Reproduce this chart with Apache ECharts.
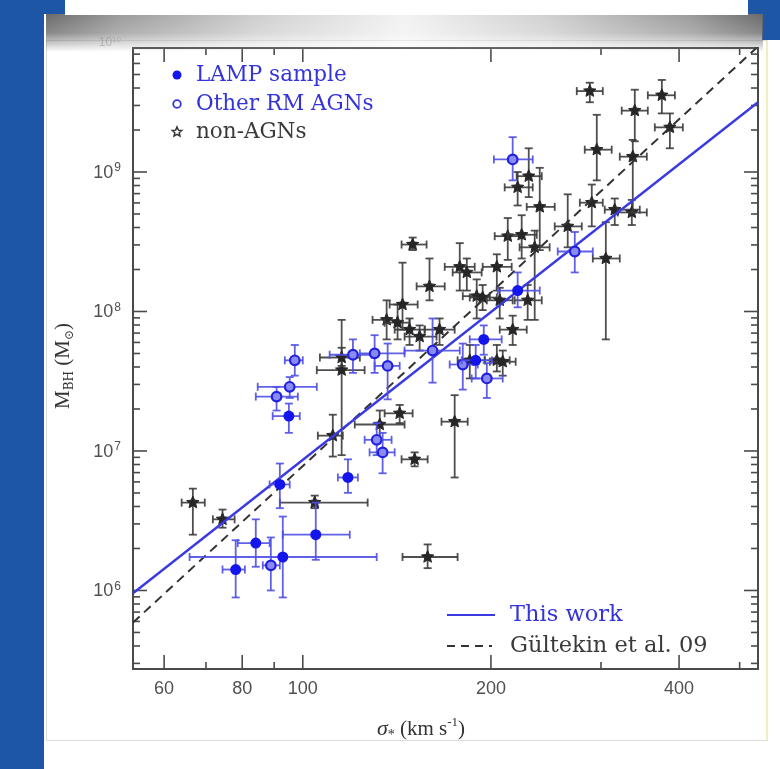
<!DOCTYPE html>
<html>
<head>
<meta charset="utf-8">
<script src="https://cdn.jsdelivr.net/npm/echarts@6/dist/echarts.min.js"></script>
<style>
  html, body { margin: 0; padding: 0; }
  body { width: 780px; height: 769px; background: #1c56a4; position: relative; overflow: hidden; }
  #paper { position: absolute; left: 44px; top: 14px; width: 736px; height: 755px; background: #ffffff; }
  #cornerBlue { position: absolute; left: 762px; top: 0; width: 18px; height: 40px; background: #1c56a4; }
  #frame { position: absolute; left: 46px; top: 40px; width: 719px; height: 699px; border: 1px solid #dcdcdc; border-right: 2px solid #eeeec0; }
  #chart { position: absolute; left: 0; top: 0; width: 780px; height: 769px; z-index: 1; }
  #shadow { position: absolute; left: 46px; top: 14px; width: 717px; height: 38px; z-index: 2;
    background: linear-gradient(to right, #6a6a6a 0%, #9a9a9a 10%, #d0d0d0 30%, #f2f2f2 50%, #d0d0d0 70%, #9a9a9a 90%, #6a6a6a 100%);
    -webkit-mask-image: linear-gradient(to bottom, rgba(0,0,0,1) 0%, rgba(0,0,0,0.8) 50%, rgba(0,0,0,0) 100%);
    mask-image: linear-gradient(to bottom, rgba(0,0,0,1) 0%, rgba(0,0,0,0.8) 50%, rgba(0,0,0,0) 100%); }
  #titlebox { position: absolute; left: 65px; top: 0; width: 683px; height: 15px; background: #ffffff; z-index: 3; }
</style>
</head>
<body>
<div id="paper"></div>
<div id="cornerBlue"></div>
<div id="frame"></div>
<div id="chart"></div>
<div id="shadow"></div>
<div id="titlebox"></div>
<script>
// ---------------- DATA ----------------
// axis ranges
const sigmaRange = [53.5, 535];        // km/s
const logMRange = [5.437, 9.889];      // log10(M_BH / M_sun)

// tick values
const xMajorTicks = [60, 80, 100, 200, 400];
const xMinorTicks = [70, 90, 300, 500];
const yMajorExponents = [6, 7, 8, 9];
const yMinorMultipliers = [2, 3, 4, 5, 6, 7, 8, 9];

// rows: [sigma, sigmaLow, sigmaHigh, logM, logMLow, logMHigh]
const lampSample = [
  [220.7, 205.1, 239.4, 8.15, 8.03, 8.28],
  [194.8, 185.0, 208.1, 7.80, 7.69, 7.90],
  [189.1, 179.6, 200.7, 7.65, 7.52, 7.76],
  [95.0, 89.5, 98.9, 7.25, 7.13, 7.34],
  [118.1, 113.8, 122.5, 6.81, 6.70, 6.94],
  [91.9, 88.5, 95.3, 6.76, 6.59, 6.91],
  [104.9, 92.9, 118.9, 6.40, 6.22, 6.63],
  [84.1, 78.7, 88.5, 6.34, 6.17, 6.51],
  [92.9, 65.9, 131.3, 6.24, 5.95, 6.53],
  [78.1, 74.4, 80.8, 6.15, 5.95, 6.36]
];

const otherRM = [
  [216.7, 202.2, 233.3, 9.09, 8.94, 9.25],
  [272.4, 255.8, 291.1, 8.43, 8.28, 8.57],
  [161.3, 145.5, 178.3, 7.72, 7.49, 7.95],
  [180.3, 171.8, 190.5, 7.62, 7.44, 7.77],
  [197.0, 186.3, 208.9, 7.52, 7.38, 7.63],
  [97.1, 93.6, 100.0, 7.65, 7.54, 7.76],
  [95.3, 84.7, 105.3, 7.46, 7.38, 7.53],
  [90.8, 84.1, 98.2, 7.39, 7.29, 7.46],
  [120.3, 110.4, 128.9, 7.69, 7.56, 7.80],
  [130.3, 123.4, 145.5, 7.70, 7.56, 7.83],
  [136.7, 130.3, 142.9, 7.61, 7.37, 7.77],
  [131.3, 125.6, 138.7, 7.08, 6.97, 7.20],
  [134.2, 127.9, 140.3, 6.99, 6.84, 7.13],
  [88.9, 86.3, 91.9, 6.18, 6.00, 6.38]
];

const nonAGN = [
  [66.7, 64.0, 69.7, 6.63, 6.40, 6.73],
  [74.4, 71.8, 77.8, 6.51, 6.45, 6.58],
  [104.5, 91.9, 127.0, 6.63, 6.59, 6.68],
  [158.4, 144.4, 176.9, 6.24, 6.16, 6.33],
  [151.0, 143.9, 158.4, 6.94, 6.89, 6.99],
  [142.9, 135.2, 149.9, 7.27, 7.20, 7.33],
  [132.8, 121.1, 145.5, 7.19, 7.08, 7.29],
  [111.7, 105.7, 115.9, 7.11, 6.96, 7.26],
  [175.0, 166.7, 183.6, 7.21, 6.81, 7.40],
  [115.4, 105.3, 125.6, 7.58, 6.97, 7.94],
  [115.4, 106.5, 123.4, 7.67, 7.61, 7.74],
  [136.2, 129.3, 141.8, 7.94, 7.80, 8.08],
  [141.8, 135.2, 148.2, 7.92, 7.80, 8.05],
  [144.4, 137.7, 152.7, 8.05, 7.87, 8.35],
  [149.9, 143.9, 157.8, 8.48, 8.44, 8.53],
  [159.5, 152.1, 168.7, 8.18, 8.08, 8.38],
  [148.2, 140.3, 156.7, 7.87, 7.76, 7.95],
  [153.8, 145.5, 163.7, 7.82, 7.72, 7.90],
  [165.5, 156.7, 175.0, 7.87, 7.76, 7.95],
  [178.3, 168.7, 188.4, 8.32, 8.15, 8.49],
  [183.0, 173.7, 193.3, 8.28, 8.15, 8.38],
  [189.8, 180.3, 199.2, 8.11, 7.95, 8.23],
  [185.0, 176.9, 195.5, 7.65, 7.52, 7.76],
  [204.4, 194.0, 215.9, 8.32, 8.15, 8.41],
  [194.0, 185.0, 204.4, 8.10, 8.01, 8.19],
  [206.6, 197.0, 216.7, 8.08, 7.95, 8.17],
  [216.7, 206.6, 228.2, 7.87, 7.76, 7.97],
  [204.4, 195.5, 214.3, 7.65, 7.57, 7.76],
  [208.9, 199.2, 219.1, 7.64, 7.54, 7.72],
  [212.8, 202.8, 224.0, 8.54, 8.37, 8.67],
  [224.0, 212.8, 236.8, 8.55, 8.38, 8.69],
  [235.0, 222.3, 248.3, 8.46, 7.94, 8.58],
  [239.4, 228.2, 253.0, 8.75, 8.44, 9.03],
  [220.7, 210.4, 233.3, 8.89, 8.76, 9.00],
  [229.9, 219.9, 241.2, 8.97, 8.82, 9.17],
  [229.0, 218.3, 241.2, 8.08, 7.94, 8.19],
  [265.4, 253.0, 279.5, 8.61, 8.46, 8.84],
  [290.0, 277.5, 302.0, 8.78, 8.61, 8.91],
  [315.6, 304.2, 346.1, 8.73, 8.62, 8.81],
  [336.1, 319.1, 355.2, 8.71, 8.62, 8.80],
  [305.4, 291.1, 321.5, 8.38, 7.80, 8.64],
  [295.4, 282.6, 312.1, 9.16, 8.94, 9.41],
  [287.9, 274.4, 302.0, 9.58, 9.50, 9.64],
  [339.8, 323.8, 356.5, 9.44, 9.22, 9.59],
  [337.3, 321.5, 355.2, 9.11, 8.71, 9.23],
  [375.4, 356.5, 393.9, 9.55, 9.42, 9.66],
  [386.7, 365.8, 405.6, 9.32, 9.17, 9.42]
];

// fit lines: endpoints [sigma, logM]
const thisWorkLine = [[53.5, 5.98], [535, 9.50]];
const gultekinLine = [[53.5, 5.77], [535, 9.90]];

// ---------------- STYLES ----------------
const BLUE = '#1414ec';
const BLUE_ERR = '#4f4fe6';
const BLACK = '#262626';
const BLACK_ERR = '#3c3c3c';
const AXIS = '#4a4a4a';
const TICK_FONT = '18px "Liberation Sans", Arial, sans-serif';
const LEG_FONT_TOP = '21.5px "DejaVu Serif", serif';
const LEG_FONT_BOT = '22.5px "DejaVu Serif", serif';

const L10 = Math.log10;
const toItem = r => [L10(r[0]), r[3], L10(r[1]), L10(r[2]), r[4], r[5]];

function starPoints(cx, cy, R, r) {
  const pts = [];
  for (let i = 0; i < 10; i++) {
    const ang = -Math.PI / 2 + i * Math.PI / 5;
    const rad = i % 2 === 0 ? R : r;
    pts.push([cx + rad * Math.cos(ang), cy + rad * Math.sin(ang)]);
  }
  return pts;
}

function markerShape(kind, cx, cy) {
  if (kind === 'lamp') return { type: 'circle', shape: { cx, cy, r: 5.5 }, style: { fill: BLUE } };
  if (kind === 'rm') return { type: 'circle', shape: { cx, cy, r: 4.8 }, style: { fill: '#8a8af2', stroke: '#2020e0', lineWidth: 2.2 } };
  return { type: 'polygon', shape: { points: starPoints(cx, cy, 6.5, 3) }, style: { fill: BLACK, stroke: BLACK, lineWidth: 1 } };
}

function errorRenderer(kind) {
  const errColor = kind === 'non' ? BLACK_ERR : BLUE_ERR;
  return function (params, api) {
    const x = api.value(0), y = api.value(1);
    const c = api.coord([x, y]);
    const xl = api.coord([api.value(2), y]);
    const xh = api.coord([api.value(3), y]);
    const yl = api.coord([x, api.value(4)]);
    const yh = api.coord([x, api.value(5)]);
    const ls = { stroke: errColor, lineWidth: 1.8, opacity: 0.9 };
    const cap = 4;
    const children = [
      { type: 'line', shape: { x1: xl[0], y1: c[1], x2: xh[0], y2: c[1] }, style: ls },
      { type: 'line', shape: { x1: c[0], y1: yl[1], x2: c[0], y2: yh[1] }, style: ls },
      { type: 'line', shape: { x1: xl[0], y1: c[1] - cap, x2: xl[0], y2: c[1] + cap }, style: ls },
      { type: 'line', shape: { x1: xh[0], y1: c[1] - cap, x2: xh[0], y2: c[1] + cap }, style: ls },
      { type: 'line', shape: { x1: c[0] - cap, y1: yl[1], x2: c[0] + cap, y2: yl[1] }, style: ls },
      { type: 'line', shape: { x1: c[0] - cap, y1: yh[1], x2: c[0] + cap, y2: yh[1] }, style: ls },
      markerShape(kind, c[0], c[1])
    ];
    return { type: 'group', children };
  };
}

function axisRenderer(params, api) {
  const cs = params.coordSys;
  const left = cs.x, right = cs.x + cs.width, top = cs.y, bottom = cs.y + cs.height;
  const MAJ = 14, MIN = 7;
  const ch = [];
  const st = { stroke: AXIS, lineWidth: 1.6 };
  const ln = (x1, y1, x2, y2) => ch.push({ type: 'line', shape: { x1, y1, x2, y2 }, style: st });
  const ymid = (logMRange[0] + logMRange[1]) / 2;
  const xmid = (L10(sigmaRange[0]) + L10(sigmaRange[1])) / 2;
  xMajorTicks.forEach(v => {
    const px = api.coord([L10(v), ymid])[0];
    ln(px, bottom, px, bottom - MAJ); ln(px, top, px, top + MAJ);
    ch.push({ type: 'text', x: px, y: bottom + 11, style: { text: String(v), font: TICK_FONT, fill: '#505050', align: 'center', verticalAlign: 'top' } });
  });
  xMinorTicks.forEach(v => {
    const px = api.coord([L10(v), ymid])[0];
    if (px < left || px > right) return;
    ln(px, bottom, px, bottom - MIN); ln(px, top, px, top + MIN);
  });
  yMajorExponents.forEach(e => {
    const py = api.coord([xmid, e])[1];
    ln(left, py, left + MAJ, py); ln(right, py, right - MAJ, py);
    ch.push({ type: 'text', x: left - 12, y: py + 1, style: {
      text: '{b|10}{s|' + e + '}', align: 'right', verticalAlign: 'middle',
      rich: { b: { font: TICK_FONT, fill: '#505050', lineHeight: 22 },
              s: { font: '12px "Liberation Sans", Arial, sans-serif', fill: '#505050', verticalAlign: 'top', lineHeight: 22, padding: [0, 0, 0, 1] } } } });
  });
  for (let e = 5; e <= 9; e++) {
    yMinorMultipliers.forEach(m => {
      const lv = e + L10(m);
      if (lv < logMRange[0] || lv > logMRange[1]) return;
      const py = api.coord([xmid, lv])[1];
      ln(left, py, left + MIN, py); ln(right, py, right - MIN, py);
    });
  }
  return { type: 'group', children: ch };
}

const chart = echarts.init(document.getElementById('chart'), null, { renderer: 'canvas' });

const option = {
  animation: false,
  backgroundColor: 'transparent',
  grid: { left: 133, top: 48, right: 22, bottom: 100, show: true, borderColor: AXIS, borderWidth: 2, backgroundColor: '#ffffff' },
  xAxis: { type: 'value', min: L10(sigmaRange[0]), max: L10(sigmaRange[1]), show: false },
  yAxis: { type: 'value', min: logMRange[0], max: logMRange[1], show: false },
  series: [
    { type: 'custom', name: 'axes', silent: true, renderItem: axisRenderer, data: [[2, 7]], z: 1 },
    { type: 'custom', name: 'non-AGNs', renderItem: errorRenderer('non'), data: nonAGN.map(toItem), encode: { x: 0, y: 1 }, z: 2 },
    { type: 'line', name: 'Gültekin et al. 09', data: gultekinLine.map(p => [L10(p[0]), p[1]]), showSymbol: false, symbol: 'none', clip: true,
      lineStyle: { color: '#333333', width: 2, type: [9, 6] }, z: 3 },
    { type: 'line', name: 'This work', data: thisWorkLine.map(p => [L10(p[0]), p[1]]), showSymbol: false, symbol: 'none', clip: true,
      lineStyle: { color: '#3a3ae0', width: 2.4 }, z: 4 },
    { type: 'custom', name: 'Other RM AGNs', renderItem: errorRenderer('rm'), data: otherRM.map(toItem), encode: { x: 0, y: 1 }, z: 5 },
    { type: 'custom', name: 'LAMP sample', renderItem: errorRenderer('lamp'), data: lampSample.map(toItem), encode: { x: 0, y: 1 }, z: 6 }
  ],
  graphic: [
    // top-left legend
    { type: 'circle', shape: { cx: 177, cy: 75, r: 4.5 }, style: { fill: BLUE }, z: 10 },
    { type: 'text', x: 196, y: 75, style: { text: 'LAMP sample', font: LEG_FONT_TOP, fill: '#3434d8', verticalAlign: 'middle' }, z: 10 },
    { type: 'circle', shape: { cx: 177, cy: 104, r: 3.8 }, style: { fill: '#ffffff', stroke: '#3434d8', lineWidth: 1.8 }, z: 10 },
    { type: 'text', x: 196, y: 104, style: { text: 'Other RM AGNs', font: LEG_FONT_TOP, fill: '#3434d8', verticalAlign: 'middle' }, z: 10 },
    { type: 'polygon', shape: { points: starPoints(177, 132, 5, 2.3) }, style: { fill: '#ffffff', stroke: '#333', lineWidth: 1.5 }, z: 10 },
    { type: 'text', x: 196, y: 132, style: { text: 'non-AGNs', font: LEG_FONT_TOP, fill: '#3a3a3a', verticalAlign: 'middle' }, z: 10 },
    // bottom-right legend
    { type: 'line', shape: { x1: 447, y1: 615, x2: 495, y2: 615 }, style: { stroke: '#3a3ae0', lineWidth: 2.2 }, z: 10 },
    { type: 'text', x: 510, y: 615, style: { text: 'This work', font: LEG_FONT_BOT, fill: '#3434d8', verticalAlign: 'middle' }, z: 10 },
    { type: 'line', shape: { x1: 447, y1: 646, x2: 492, y2: 646 }, style: { stroke: '#333', lineWidth: 2, lineDash: [8, 6] }, z: 10 },
    { type: 'text', x: 510, y: 646, style: { text: 'Gültekin et al. 09', font: LEG_FONT_BOT, fill: '#3a3a3a', verticalAlign: 'middle' }, z: 10 },
    // axis titles
    { type: 'text', x: 421, y: 729, z: 10, style: {
        text: '{i|σ}{sub|*}{n| (km s}{sup|-1}{n|)}', align: 'center', verticalAlign: 'middle',
        rich: { i: { font: 'italic 22px "Liberation Serif", serif', fill: '#333', lineHeight: 26 },
                sub: { font: '14px "Liberation Serif", serif', fill: '#333', verticalAlign: 'bottom', lineHeight: 26 },
                n: { font: '21px "Liberation Serif", serif', fill: '#333', lineHeight: 26 },
                sup: { font: '13px "Liberation Serif", serif', fill: '#333', verticalAlign: 'top', lineHeight: 26 } } } },
    { type: 'text', x: 63, y: 366, rotation: Math.PI / 2, z: 10, style: {
        text: '{n|M}{sub|BH}{n| (M}{sub|⊙}{n|)}', align: 'center', verticalAlign: 'middle',
        rich: { n: { font: '21px "Liberation Serif", serif', fill: '#333', lineHeight: 26 },
                sub: { font: '12px "DejaVu Serif", serif', fill: '#333', verticalAlign: 'bottom', lineHeight: 26 } } } },
    // partly hidden top tick label
    { type: 'text', x: 121, y: 43, z: 10, style: { text: '{b|10}{s|10}', align: 'right', verticalAlign: 'middle', opacity: 0.5,
        rich: { b: { font: '12px "Liberation Sans", sans-serif', fill: '#888', lineHeight: 14 },
                s: { font: '8px "Liberation Sans", sans-serif', fill: '#888', verticalAlign: 'top', lineHeight: 14 } } } }
  ]
};
chart.setOption(option);
</script>
</body>
</html>
